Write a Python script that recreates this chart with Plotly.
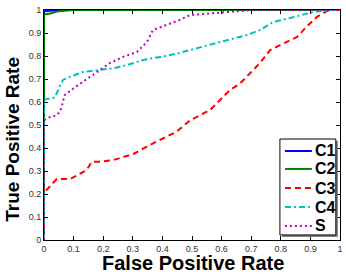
import plotly.graph_objects as go

# ---- data ----
c1_fpr = [0, 0, 0.05, 1]
c1_tpr = [0, 0.995, 1, 1]

c2_fpr = [0, 0, 0.02, 0.05, 0.1, 1]
c2_tpr = [0, 0.98, 0.985, 0.995, 1, 1]

c3_fpr = [0, 0, 0.003, 0.02, 0.043, 0.088, 0.127, 0.144, 0.161, 0.19, 0.235, 0.268, 0.302,
          0.347, 0.38, 0.414, 0.448, 0.493, 0.561, 0.595, 0.628, 0.662, 0.696, 0.73, 0.764,
          0.797, 0.855, 0.889, 0.922, 0.956, 0.97, 1]
c3_tpr = [0, 0.2, 0.21, 0.232, 0.265, 0.265, 0.29, 0.304, 0.34, 0.34, 0.348, 0.36, 0.374,
          0.406, 0.427, 0.449, 0.471, 0.52, 0.565, 0.609, 0.652, 0.68, 0.725, 0.77, 0.826,
          0.848, 0.883, 0.93, 0.97, 0.995, 1, 1]

c4_fpr = [0, 0, 0.02, 0.037, 0.05, 0.064, 0.088, 0.132, 0.19, 0.233, 0.28, 0.336, 0.392,
          0.449, 0.493, 0.561, 0.628, 0.685, 0.73, 0.774, 0.831, 0.875, 0.909, 0.966, 1]
c4_tpr = [0, 0.61, 0.615, 0.62, 0.66, 0.696, 0.71, 0.73, 0.74, 0.746, 0.76, 0.783, 0.796,
          0.81, 0.826, 0.848, 0.87, 0.891, 0.913, 0.948, 0.965, 0.978, 0.991, 1.0, 1]

s_fpr = [0, 0, 0.01, 0.044, 0.055, 0.06, 0.07, 0.1, 0.132, 0.179, 0.223, 0.267, 0.314,
         0.348, 0.368, 0.416, 0.459, 0.493, 0.595, 0.706, 1]
s_tpr = [0, 0.52, 0.53, 0.543, 0.56, 0.58, 0.63, 0.66, 0.687, 0.73, 0.77, 0.796, 0.818,
         0.861, 0.913, 0.935, 0.957, 0.978, 0.987, 1.0, 1]

series_names = ["C1", "C2", "C3", "C4", "S"]
tick_vals = [0, 0.1, 0.2, 0.3, 0.4, 0.5, 0.6, 0.7, 0.8, 0.9, 1]
tick_text = ["0", "0.1", "0.2", "0.3", "0.4", "0.5", "0.6", "0.7", "0.8", "0.9", "1"]

colors = ["#0000FF", "#008000", "#FF0000", "#00BFBF", "#BF00BF"]
dashes = ["solid", "solid", "6px,4px", "6px,3px,2px,3px", "2px,3px"]

data = [(c1_fpr, c1_tpr), (c2_fpr, c2_tpr), (c3_fpr, c3_tpr), (c4_fpr, c4_tpr), (s_fpr, s_tpr)]

fig = go.Figure()
for (x, y), name, col, d in zip(data, series_names, colors, dashes):
    fig.add_trace(go.Scatter(x=x, y=y, mode="lines", name=name,
                             line=dict(color=col, width=2, dash=d), showlegend=False))

axis_common = dict(range=[0, 1], tickvals=tick_vals, ticktext=tick_text, showgrid=False,
                   zeroline=False, showline=True, linecolor="black", linewidth=1,
                   mirror="ticks", ticks="inside", ticklen=4, tickcolor="black",
                   automargin=False,
                   tickfont=dict(family="Liberation Sans, Arial", size=9, color="#333333"))

fig.update_layout(
    width=346, height=275,
    margin=dict(l=44, r=6, t=10, b=35),
    paper_bgcolor="white", plot_bgcolor="white",
    xaxis=axis_common, yaxis=axis_common,
)

# axis titles
fig.add_annotation(text="<b>False Positive Rate</b>", xref="paper", yref="paper",
                   x=0.502, y=-0.1, xanchor="center", yanchor="middle",
                   showarrow=False,
                   font=dict(family="Liberation Sans, Arial", size=20, color="black"))
fig.add_annotation(text="<b>True Positive Rate</b>", xref="paper", yref="paper",
                   x=-0.105, y=0.44, xanchor="center", yanchor="middle", textangle=-90,
                   showarrow=False,
                   font=dict(family="Liberation Sans, Arial", size=19, color="black"))

# legend drawn manually (MATLAB style box with shadow)
bx0, bx1, by0, by1 = 0.797, 0.986, 0.022, 0.439
sx, sy = 0.0068, 0.0087
fig.add_shape(type="rect", xref="paper", yref="paper", x0=bx0 + sx, x1=bx1 + sx,
              y0=by0 - sy, y1=by1 - sy, fillcolor="#808080", line=dict(width=0))
fig.add_shape(type="rect", xref="paper", yref="paper", x0=bx0, x1=bx1, y0=by0, y1=by1,
              fillcolor="white", line=dict(color="black", width=1))
row_y = [0.387, 0.309, 0.226, 0.143, 0.061]
for name, col, d, yy in zip(series_names, colors, dashes, row_y):
    fig.add_shape(type="line", xref="paper", yref="paper", x0=0.814, x1=0.905, y0=yy, y1=yy,
                  line=dict(color=col, width=2, dash=d))
    fig.add_annotation(text="<b>" + name + "</b>", xref="paper", yref="paper", x=0.91, y=yy,
                       xanchor="left", yanchor="middle", showarrow=False,
                       font=dict(family="Liberation Sans, Arial", size=16, color="black"))

fig.write_html("out.html", config={"displayModeBar": False},
               post_script="document.body.style.margin='0';document.body.style.padding='0';")
